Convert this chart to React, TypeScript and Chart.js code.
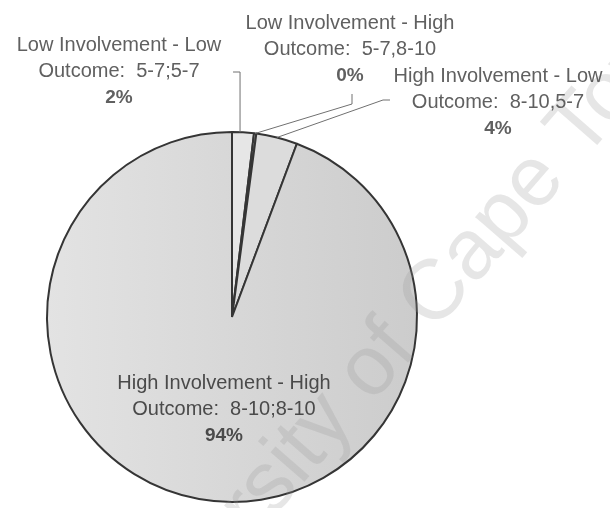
import React, { useEffect, useRef } from "react";
import { Chart, registerables } from "chart.js";

Chart.register(...registerables);

// ---- data ----
const categories = [
  "Low Involvement - Low Outcome: 5-7;5-7",
  "Low Involvement - High Outcome: 5-7,8-10",
  "High Involvement - Low Outcome: 8-10,5-7",
  "High Involvement - High Outcome: 8-10;8-10",
];
const values = [1.9, 0.2, 3.6, 94.3];
const titleLines = [
  "Low Involvement - Low",
  "Low Involvement - High",
  "High Involvement - Low",
  "High Involvement - High",
];
const outcomeLines = [
  "Outcome:  5-7;5-7",
  "Outcome:  5-7,8-10",
  "Outcome:  8-10,5-7",
  "Outcome:  8-10;8-10",
];
const percentLines = ["2%", "0%", "4%", "94%"];
const watermark = "University of Cape Town";

// ---- label placement (styling) ----
const labelPos = [
  { x: 119, y: 45 },
  { x: 350, y: 23 },
  { x: 498, y: 76 },
  { x: 224, y: 383 },
];
const lineGap = 26.5;

const labelsPlugin = {
  id: "pieLabels",
  afterDatasetsDraw(chart: any) {
    const ctx = chart.ctx as CanvasRenderingContext2D;
    const meta = chart.getDatasetMeta(0);

    // watermark
    ctx.save();
    ctx.translate(94, 688);
    ctx.rotate((-49 * Math.PI) / 180);
    ctx.font = "85px 'Liberation Sans', Arial, sans-serif";
    ctx.fillStyle = "rgba(150,150,150,0.24)";
    ctx.textAlign = "left";
    ctx.textBaseline = "middle";
    ctx.fillText(watermark, 0, 0);
    ctx.restore();

    // leader lines
    const edge = (i: number) => {
      const a = meta.data[i];
      const mid = (a.startAngle + a.endAngle) / 2;
      return { x: a.x + Math.cos(mid) * a.outerRadius, y: a.y + Math.sin(mid) * a.outerRadius };
    };
    ctx.save();
    ctx.strokeStyle = "#707070";
    ctx.lineWidth = 1;
    const e0 = edge(0);
    ctx.beginPath();
    ctx.moveTo(e0.x - 3, e0.y);
    ctx.lineTo(e0.x - 3, 72);
    ctx.lineTo(e0.x - 10, 72);
    ctx.stroke();
    const e1 = edge(1);
    ctx.beginPath();
    ctx.moveTo(e1.x, e1.y);
    ctx.lineTo(352, 104);
    ctx.lineTo(352, 94);
    ctx.stroke();
    const e2 = edge(2);
    ctx.beginPath();
    ctx.moveTo(e2.x, e2.y);
    ctx.lineTo(383, 100);
    ctx.lineTo(390, 100);
    ctx.stroke();
    ctx.restore();

    // text labels
    ctx.save();
    ctx.textAlign = "center";
    ctx.textBaseline = "middle";
    for (let i = 0; i < titleLines.length; i++) {
      const p = labelPos[i];
      ctx.fillStyle = i === 3 ? "#4a4a4a" : "#606060";
      ctx.font = "20px 'Liberation Sans', Arial, sans-serif";
      ctx.fillText(titleLines[i], p.x, p.y);
      ctx.fillText(outcomeLines[i], p.x, p.y + lineGap);
      ctx.font = "bold 19px 'Liberation Sans', Arial, sans-serif";
      ctx.fillText(percentLines[i], p.x, p.y + lineGap * 2);
    }
    ctx.restore();
  },
};

export default function App() {
  const ref = useRef<HTMLCanvasElement | null>(null);
  useEffect(() => {
    const canvas = ref.current;
    if (!canvas) return;
    const c2d = canvas.getContext("2d")!;
    const grad = c2d.createLinearGradient(46, 0, 418, 0);
    grad.addColorStop(0, "#e3e3e3");
    grad.addColorStop(1, "#cccccc");
    const chart = new Chart(canvas, {
      type: "pie",
      data: {
        labels: categories,
        datasets: [
          {
            data: values,
            backgroundColor: ["#e6e6e6", "#e6e6e6", "#dcdcdc", grad],
            borderColor: "#353535",
            borderWidth: 2,
          },
        ],
      },
      options: {
        responsive: false,
        animation: false,
        layout: { padding: { left: 46, right: 192, top: 131, bottom: 5 } },
        plugins: {
          legend: { display: false },
          tooltip: { enabled: false },
        },
      },
      plugins: [labelsPlugin],
    });
    return () => chart.destroy();
  }, []);
  return (
    <div style={{ position: "absolute", left: 0, top: 0, width: 610, height: 508, background: "#fff" }}>
      <canvas ref={ref} width={610} height={508} />
    </div>
  );
}
